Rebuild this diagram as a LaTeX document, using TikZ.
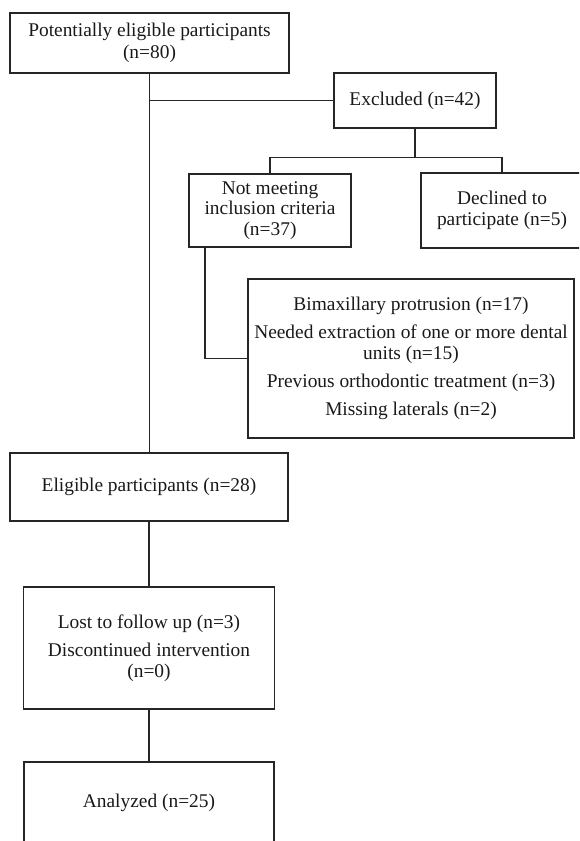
\documentclass[tikz,border=0pt]{standalone}
\usepackage{fontspec}
\setmainfont{Liberation Serif}
\begin{document}
\begin{tikzpicture}[x=1pt,y=-1pt,
  box/.style={draw=black!85, line width=1.3pt, inner sep=0pt, align=center,
    text=black!90, font=\fontsize{19.4}{20.5}\selectfont},
  link/.style={draw=black!85, line width=1.3pt}]
\useasboundingbox (0,0) rectangle (579,841);
\clip (0,0) rectangle (579,841);
\node[box, minimum width=279pt, minimum height=60pt] (top) at (149.5,43)
  {Potentially eligible participants\\[1pt](n=80)};
\node[box, minimum width=162pt, minimum height=55pt] (excl) at (415,100.5)
  {Excluded (n=42)};
\node[box, minimum width=162pt, minimum height=73pt] (notmeet) at (270,210.5)
  {Not meeting\\inclusion criteria\\(n=37)};
\node[box, minimum width=162pt, minimum height=75pt] (declined) at (502,210.5)
  {Declined to\\participate (n=5)};
\node[box, minimum width=326pt, minimum height=159pt] (bimax) at (411,358.5)
  {Bimaxillary protrusion (n=17)\\[7.5pt]Needed extraction of one or more dental\\units (n=15)\\[7.5pt]Previous orthodontic treatment (n=3)\\[7.5pt]Missing laterals (n=2)};
\node[box, minimum width=278pt, minimum height=68pt] (elig) at (149,487)
  {Eligible participants (n=28)};
\node[box, minimum width=251pt, minimum height=122pt] (lost) at (149,648)
  {Lost to follow up (n=3)\\[8pt]Discontinued intervention\\(n=0)};
\node[box, minimum width=250pt, minimum height=82pt] (anal) at (149,803)
  {Analyzed (n=25)};
\draw[link] (top.south) -- (top.south |- elig.north);
\draw[link] (top.south |- excl.west) -- (excl.west);
\draw[link] (excl.south) -- ++(0,29) coordinate (split);
\draw[link] (notmeet.north) |- (split) -| (declined.north);
\coordinate (nmdrop) at (205,247);
\draw[link] (nmdrop) |- (bimax.west);
\draw[link] (elig.south) -- (lost.north);
\draw[link] (lost.south) -- (anal.north);
\end{tikzpicture}
\end{document}
